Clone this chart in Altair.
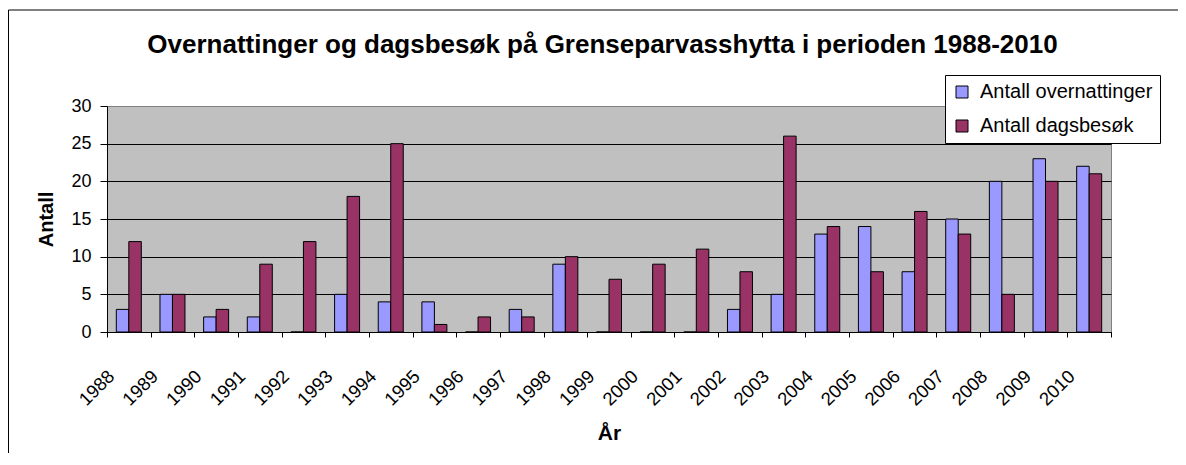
import altair as alt
import pandas as pd

years = [str(y) for y in range(1988, 2011)]
overnattinger = [3, 5, 2, 2, 0, 5, 4, 4, 0, 3, 9, 0, 0, 0, 3, 5, 13, 14, 8, 15, 20, 23, 22]
dagsbesok = [12, 5, 3, 9, 12, 18, 25, 1, 2, 2, 10, 7, 9, 11, 8, 26, 14, 8, 16, 13, 5, 20, 21]
series_names = ["Antall overnattinger", "Antall dagsbesøk"]
series_colors = ["#9999FF", "#993366"]
title_text = "Overnattinger og dagsbesøk på Grenseparvasshytta i perioden 1988-2010"

rows = []
for i, y in enumerate(years):
    rows.append({"År": y, "Serie": series_names[0], "Antall": overnattinger[i]})
    rows.append({"År": y, "Serie": series_names[1], "Antall": dagsbesok[i]})
df = pd.DataFrame(rows)

FONT = "Liberation Sans"

frame_top = alt.Chart(alt.Data(values=[{}])).mark_rule(color="black", strokeWidth=1).encode(
    x=alt.value(-98.5), x2=alt.value(1071), y=alt.value(-96)
)
frame_left = alt.Chart(alt.Data(values=[{}])).mark_rule(color="black", strokeWidth=1).encode(
    x=alt.value(-98.5), y=alt.value(-96), y2=alt.value(347)
)
edge_mask = alt.Chart(alt.Data(values=[{}])).mark_rule(color="white", strokeWidth=3).encode(
    x=alt.value(1070), y=alt.value(-95), y2=alt.value(347)
)

title = alt.Chart(alt.Data(values=[{"t": title_text}])).mark_text(
    font=FONT, fontSize=26, fontWeight="bold", align="center", baseline="alphabetic", color="black"
).encode(
    x=alt.value(495.5), y=alt.value(-53), text="t:N"
)

bars = alt.Chart(df).mark_bar(stroke="black", strokeWidth=1).encode(
    x=alt.X(
        "År:N",
        sort=years,
        scale=alt.Scale(paddingInner=0, paddingOuter=0),
        axis=alt.Axis(
            title="År", titleFont=FONT, titleFontSize=21, titleFontWeight="bold",
            titleX=502, titleY=107, titleBaseline="alphabetic", titleAlign="center",
            labelFont=FONT, labelFontSize=18.5, labelColor="black",
            labelAngle=315, labelAlign="right", labelBaseline="middle",
            labelPadding=36, labelOffset=-18,
            tickBand="extent", tickColor="black", tickSize=5,
            domainColor="black", grid=False,
        ),
    ),
    xOffset=alt.XOffset(
        "Serie:N", sort=series_names,
        scale=alt.Scale(paddingInner=0, paddingOuter=0.746),
    ),
    y=alt.Y(
        "Antall:Q",
        scale=alt.Scale(domain=[0, 30], nice=False),
        axis=alt.Axis(
            title="Antall", titleFont=FONT, titleFontSize=20, titleFontWeight="bold",
            titleX=-55, titleY=113, titleBaseline="alphabetic", titleAlign="center", titleAngle=270,
            values=[0, 5, 10, 15, 20, 25, 30],
            labelFont=FONT, labelFontSize=18, labelColor="black", labelPadding=9,
            tickColor="black", tickSize=7, domainColor="black",
            grid=True,
            gridColor={"condition": {"test": "datum.value >= 30", "value": "#808080"}, "value": "#000000"},
            gridWidth=1,
        ),
    ),
    color=alt.Color(
        "Serie:N",
        sort=series_names,
        scale=alt.Scale(domain=series_names, range=series_colors),
        legend=alt.Legend(
            title=None, orient="none", legendX=838, legendY=-31,
            fillColor="white", strokeColor="black", padding=7,
            labelFont=FONT, labelFontSize=20, labelColor="black", labelOffset=8,
            symbolType="square", symbolSize=144, symbolStrokeColor="black", symbolStrokeWidth=1,
            symbolOpacity=1, rowPadding=14, labelLimit=400,
        ),
    ),
)

chart = alt.layer(frame_top, frame_left, edge_mask, bars, title).properties(
    width=1004, height=226,
    autosize=alt.AutoSizeParams(type="none"),
    padding={"left": 99, "top": 98, "right": 67, "bottom": 121},
    background="white",
).configure_view(
    fill="#C0C0C0", stroke="#808080", strokeWidth=1
)

chart.save("out.html", embed_options={"renderer": "svg", "actions": False})
